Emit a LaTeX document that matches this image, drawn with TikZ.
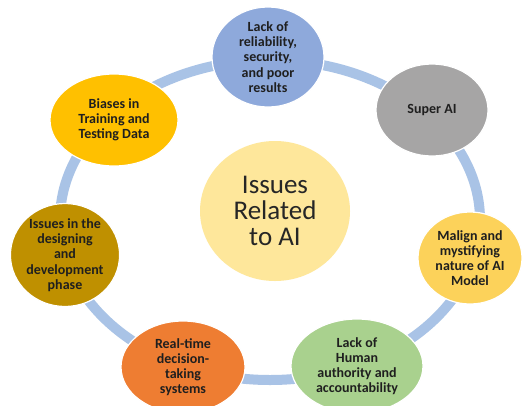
\documentclass[tikz,border=0pt]{standalone}
\usepackage{fontspec}
\setmainfont{Carlito}
\usetikzlibrary{shapes.geometric}
\definecolor{ringblue}{HTML}{A9C3E6}
\definecolor{cblue}{HTML}{8EA9DB}
\definecolor{cgray}{HTML}{A6A5A5}
\definecolor{cyellow}{HTML}{FCD25A}
\definecolor{cgreen}{HTML}{A9D18E}
\definecolor{corange}{HTML}{EE7D32}
\definecolor{cgold}{HTML}{BF9000}
\definecolor{camber}{HTML}{FFC000}
\definecolor{ccenter}{HTML}{FEE79B}
\tikzset{
  issue/.style={ellipse, draw=white, line width=1.2pt, inner sep=0pt, align=center,
    font=\fontsize{14}{15.2}\selectfont\bfseries, text=black!88},
}
\begin{document}
\begin{tikzpicture}[x=1pt,y=-1pt]
  \useasboundingbox (0,0) rectangle (529,405);
  \clip (0,0) rectangle (529,405);
  \fill[white] (0,0) rectangle (529,405);
  % connecting ring
  \draw[ringblue, line width=10pt] (270,220) ellipse [x radius=210, y radius=160];
  % centre topic
  \node[ellipse, fill=ccenter, minimum width=150pt, minimum height=140pt, inner sep=0pt,
    align=center, font=\fontsize{27}{26}\selectfont, text=black!85] (core) at (275,211)
    {Issues\\Related\\to AI};
  % surrounding issues
  \node[issue, fill=cblue, minimum width=112pt, minimum height=92pt] (rel) at (268,57)
    {Lack of\\reliability,\\security,\\and poor\\results};
  \node[issue, fill=cgray, minimum width=112pt, minimum height=92pt] (super) at (432,110)
    {Super AI};
  \node[issue, fill=cyellow, minimum width=104pt, minimum height=92pt] (malign) at (470,258)
    {Malign and\\mystifying\\nature of AI\\Model};
  \node[issue, fill=cgreen, minimum width=132pt, minimum height=94pt] (human) at (357,366)
    {Lack of\\Human\\authority and\\accountability};
  \node[issue, fill=corange, minimum width=124pt, minimum height=92pt] (rt) at (183,367)
    {Real-time\\decision-\\taking\\systems};
  \node[issue, fill=cgold, minimum width=108pt, minimum height=98pt] (design) at (65,255)
    {Issues in the\\designing\\and\\development\\phase};
  \node[issue, fill=camber, minimum width=128pt, minimum height=92pt] (bias) at (114,120)
    {Biases in\\Training and\\Testing Data};
\end{tikzpicture}
\end{document}
